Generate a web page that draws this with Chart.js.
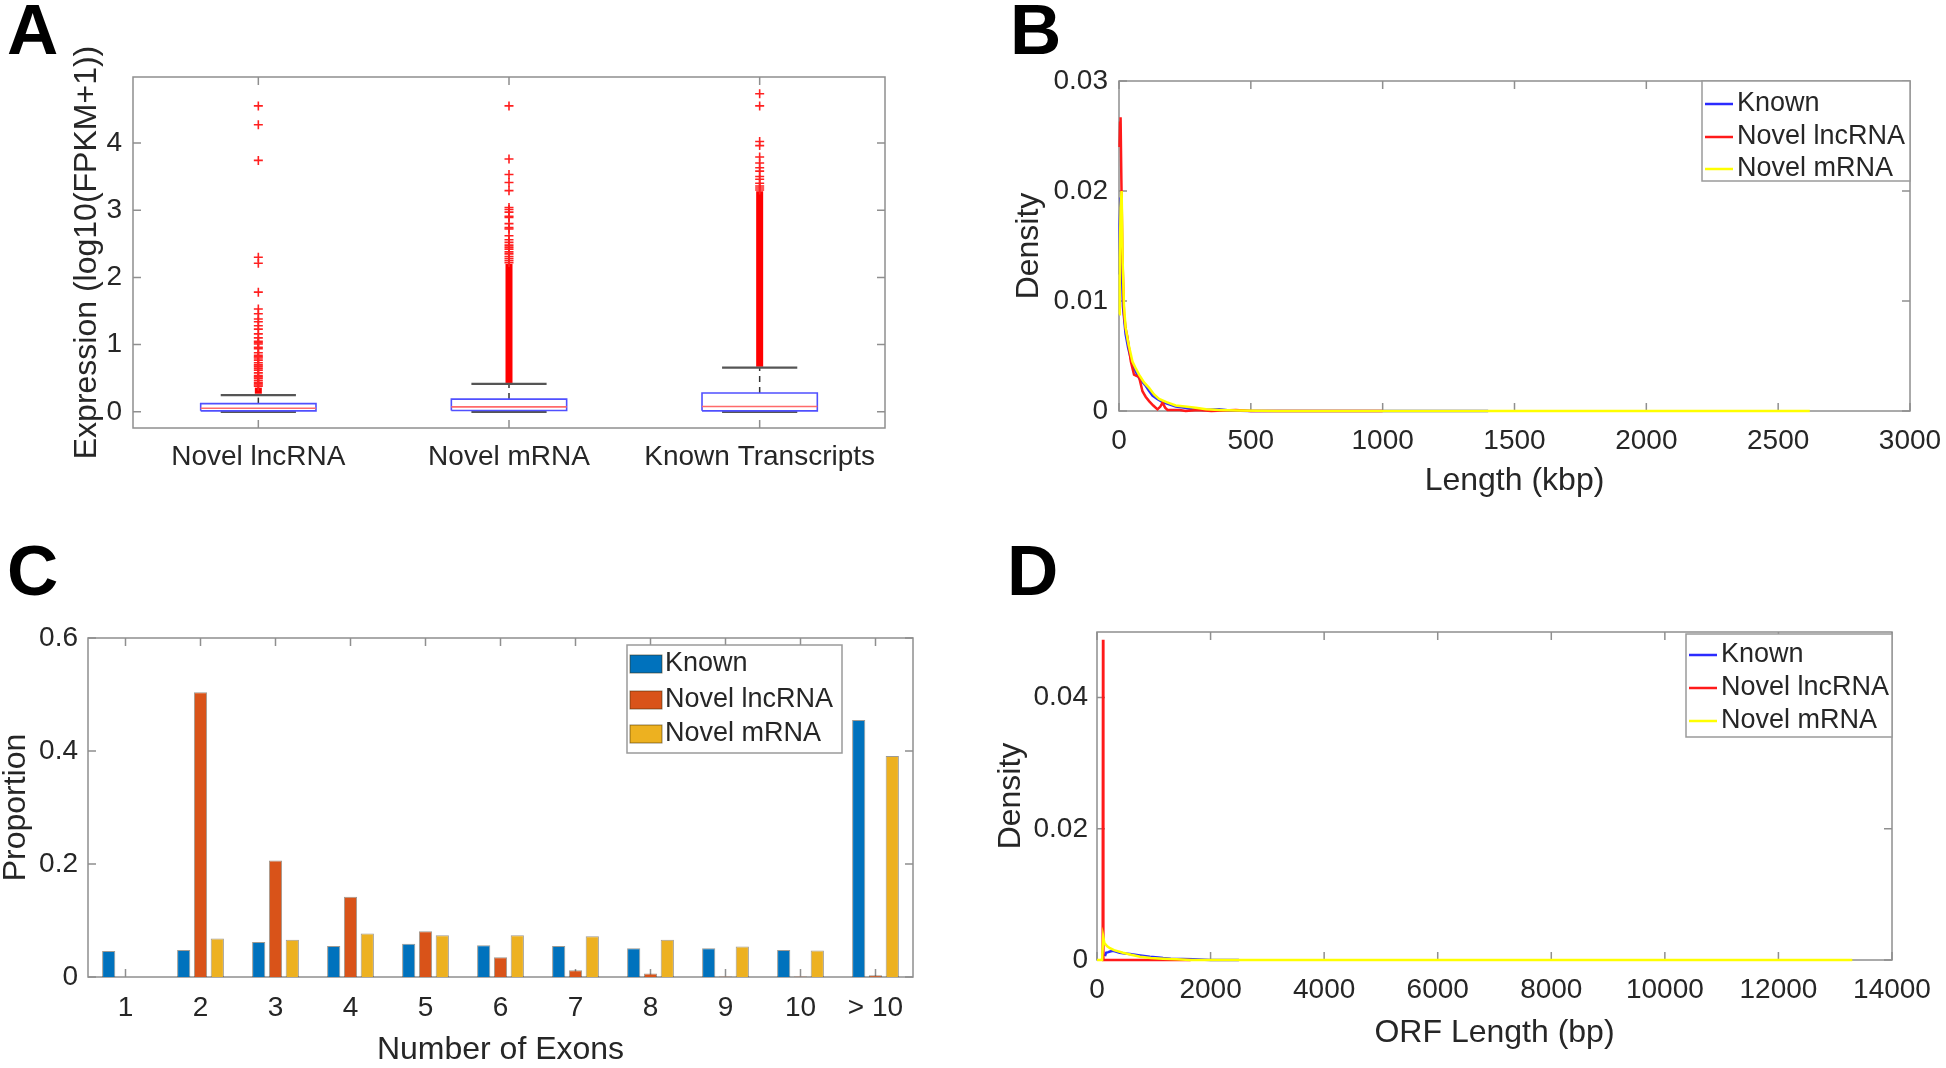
<!DOCTYPE html>
<html>
<head>
<meta charset="utf-8">
<title>Transcript features</title>
<script src="https://cdn.jsdelivr.net/npm/chart.js@4.4.1/dist/chart.umd.min.js"></script>
<style>
  html, body { margin: 0; padding: 0; background: #fff; }
  #page { position: relative; width: 1946px; height: 1068px; overflow: hidden; }
  canvas { position: absolute; }
  .tag { position: absolute; font: bold 71px 'Liberation Sans', Arial, sans-serif; line-height: 1; color: #000; }
</style>
</head>
<body>
<div id="page">
  <canvas id="chartA" width="973" height="534" style="left:0;top:0"></canvas>
  <canvas id="chartB" width="973" height="534" style="left:973px;top:0"></canvas>
  <canvas id="chartC" width="973" height="534" style="left:0;top:534px"></canvas>
  <canvas id="chartD" width="973" height="534" style="left:973px;top:534px"></canvas>
  <div class="tag" style="left:7px;top:-6px">A</div>
  <div class="tag" style="left:1010px;top:-6px">B</div>
  <div class="tag" style="left:7px;top:535px">C</div>
  <div class="tag" style="left:1007px;top:535px">D</div>
</div>
<script>
// ---- data ----
// A: expression box plots
var groupsA = ['Novel lncRNA', 'Novel mRNA', 'Known Transcripts'];
var q1A = [0.015, 0.02, 0.015];
var medA = [0.054, 0.074, 0.08];
var q3A = [0.123, 0.19, 0.28];
var whiskLoA = [0, 0, 0];
var whiskHiA = [0.25, 0.415, 0.657];
// solid runs of outliers (too dense to separate)
var denseLoA = [0.27, 0.43, 0.67];
var denseHiA = [0.36, 2.2, 3.28];
var outLnc = [4.55, 4.27, 3.74, 2.30, 2.21, 1.78, 1.53, 1.46, 1.38, 1.34, 1.28, 1.23, 1.16, 1.10, 1.05,
  1.03, 1.01, 0.96, 0.94, 0.88, 0.84, 0.82, 0.80, 0.77, 0.73, 0.70, 0.68, 0.65, 0.62, 0.58, 0.54,
  0.52, 0.50, 0.47, 0.44, 0.42, 0.40, 0.38];
var outMrna = [4.55, 3.76, 3.53, 3.41, 3.29, 3.04, 3.01, 2.97, 2.91, 2.89, 2.80, 2.74, 2.72, 2.62,
  2.56, 2.52, 2.48, 2.45, 2.42, 2.38, 2.35, 2.31, 2.28, 2.25, 2.22];
var outKnown = [4.73, 4.55, 4.02, 3.96, 3.79, 3.70, 3.63, 3.58, 3.50, 3.46, 3.40, 3.36, 3.33, 3.30];
var yTicksA = [0, 1, 2, 3, 4];

// B: transcript length density (kbp)
var knownXB = [0, 3, 6, 10, 15, 25, 35, 51, 65, 76, 90, 101, 115, 127, 145, 165, 190, 215, 250, 278, 320, 380, 420, 500, 700, 1000, 1400];
var knownYB = [0.0124, 0.017, 0.0194, 0.0135, 0.0095, 0.007, 0.0057, 0.0042, 0.0035, 0.003, 0.0026, 0.0023, 0.0018,
  0.0014, 0.0011, 0.0008, 0.0006, 0.0004, 0.0003, 0.00015, 0.0001, 0.00015, 0.00005, 0, 0, 0, 0];
var lncXB = [2, 4, 6, 9, 13, 19, 25, 32, 45, 57, 66, 76, 89, 101, 114, 130, 146, 157, 165, 175, 184, 200, 230, 253, 300, 350, 443, 500, 700, 1000];
var lncYB = [0.024, 0.0262, 0.0267, 0.021, 0.014, 0.0088, 0.0075, 0.0067, 0.0045, 0.0033, 0.0032, 0.0031, 0.0018,
  0.0013, 0.0009, 0.0005, 0.00015, 0.0004, 0.00076, 0.0003, 0.0001, 0.0001, 0.0001, 0, 0.0001, 0, 0.0001, 0, 0, 0];
var mrnaXB = [0, 3, 6, 10, 14, 19, 25, 35, 51, 65, 76, 95, 114, 133, 152, 180, 215, 250, 291, 330, 380, 450, 600, 800, 1200, 1600, 2000, 2400, 2620];
var mrnaYB = [0.0088, 0.014, 0.0185, 0.02, 0.0135, 0.0095, 0.0076, 0.0062, 0.0045, 0.0038, 0.0033, 0.0026, 0.0021,
  0.0015, 0.0011, 0.0008, 0.0005, 0.0004, 0.0003, 0.00015, 0.0001, 0.00005, 0, 0, 0, 0, 0, 0, 0];
var xTicksB = [0, 500, 1000, 1500, 2000, 2500, 3000];
var yTicksB = [0, 0.01, 0.02, 0.03];

// C: exon number proportions
var exonCats = ['1', '2', '3', '4', '5', '6', '7', '8', '9', '10', '> 10'];
var knownC = [0.046, 0.048, 0.062, 0.055, 0.059, 0.056, 0.055, 0.051, 0.051, 0.048, 0.455];
var lncC = [0, 0.504, 0.206, 0.142, 0.081, 0.035, 0.012, 0.006, 0.001, 0.001, 0.003];
var mrnaC = [0, 0.068, 0.066, 0.077, 0.074, 0.074, 0.072, 0.066, 0.054, 0.047, 0.391];
var yTicksC = [0, 0.2, 0.4, 0.6];

// D: ORF length density (bp)
var knownXD = [140, 160, 200, 230, 280, 330, 400, 490, 580, 760, 930, 1080, 1163, 1300, 1510, 1700, 2000, 2500];
var knownYD = [0.0006, 0.0011, 0.0012, 0.0013, 0.0014, 0.0013, 0.0011, 0.001, 0.0009, 0.0007, 0.0005, 0.0004,
  0.0003, 0.0002, 0.00015, 0.0001, 0, 0];
var lncXD = [100, 106, 112, 400, 1000, 1650];
var lncYD = [0, 0.0488, 0, 0, 0, 0];
var mrnaXD = [0, 90, 110, 130, 180, 229, 300, 458, 600, 758, 950, 1163, 1400, 1640, 2000, 4000, 8000, 12000, 13300];
var mrnaYD = [0, 0, 0.0035, 0.0026, 0.0021, 0.0018, 0.0015, 0.0011, 0.0008, 0.0005, 0.0003, 0.0002, 0.0001, 0, 0, 0, 0, 0, 0];
var xTicksD = [0, 2000, 4000, 6000, 8000, 10000, 12000, 14000];
var yTicksD = [0, 0.02, 0.04];

// ---- styling helpers ----
var fontFam = "'Liberation Sans', Arial, Helvetica, sans-serif";
var textColor = '#262626';
Chart.defaults.font.family = fontFam;
Chart.defaults.color = textColor;

function pts(xs, ys) {
  return xs.map(function (x, i) { return { x: x, y: ys[i] }; });
}

function seg(data, color, width, dash) {
  return {
    data: data, showLine: true, pointRadius: 0, borderColor: color, borderWidth: width,
    borderDash: dash || [], fill: false, tension: 0, clip: false
  };
}

function axis(o) {
  var a = {
    type: o.type || 'linear',
    grid: { display: false, drawTicks: false },
    border: { display: false },
    ticks: { padding: o.pad, font: { size: 28 }, maxRotation: 0, autoSkip: false },
    afterFit: function (s) {
      if (s.isHorizontal()) { s.height = o.size; s.paddingLeft = 0; s.paddingRight = 0; }
      else { s.width = o.size; s.paddingTop = 0; s.paddingBottom = 0; }
    },
    title: { display: false }
  };
  if (o.min !== undefined) a.min = o.min;
  if (o.max !== undefined) a.max = o.max;
  if (o.label) a.ticks.callback = o.label;
  if (o.values) a.afterBuildTicks = function (s) { s.ticks = o.values.map(function (v) { return { value: v }; }); };
  if (o.title) a.title = { display: true, text: o.title, color: textColor, font: { size: 32, lineHeight: 1 }, padding: o.titlePad };
  return a;
}

function baseOptions(padding, x, y, legendSpec) {
  return {
    responsive: false,
    animation: false,
    devicePixelRatio: 1,
    layout: { padding: padding, autoPadding: false },
    scales: { x: x, y: y },
    plugins: { legend: { display: false }, tooltip: { enabled: false }, frameBox: { legend: legendSpec } }
  };
}

// MATLAB-like box frame, inward ticks and an inset legend
var frameBox = {
  id: 'frameBox',
  beforeDatasetsDraw: function (chart) {
    var ctx = chart.ctx, a = chart.chartArea, x = chart.scales.x, y = chart.scales.y, L = 8;
    ctx.save();
    ctx.strokeStyle = '#8f8f8f';
    ctx.lineWidth = 1.5;
    ctx.strokeRect(a.left, a.top, a.right - a.left, a.bottom - a.top);
    ctx.beginPath();
    x.ticks.forEach(function (t, i) {
      var px = x.getPixelForTick(i);
      ctx.moveTo(px, a.bottom); ctx.lineTo(px, a.bottom - L);
      ctx.moveTo(px, a.top); ctx.lineTo(px, a.top + L);
    });
    y.ticks.forEach(function (t, i) {
      var py = y.getPixelForTick(i);
      ctx.moveTo(a.left, py); ctx.lineTo(a.left + L, py);
      ctx.moveTo(a.right, py); ctx.lineTo(a.right - L, py);
    });
    ctx.stroke();
    ctx.restore();
  },
  afterDatasetsDraw: function (chart, args, opts) {
    var lg = opts.legend;
    if (!lg) return;
    var ctx = chart.ctx, a = chart.chartArea;
    var left = a.right - lg.right - lg.w, top = a.top + lg.top;
    ctx.save();
    ctx.fillStyle = '#fff';
    ctx.fillRect(left, top, lg.w, lg.h);
    ctx.strokeStyle = '#9a9a9a';
    ctx.lineWidth = 1.5;
    ctx.strokeRect(left, top, lg.w, lg.h);
    ctx.font = '27px ' + fontFam;
    ctx.textBaseline = 'middle';
    var items = chart.data.datasets.filter(function (d) { return d.inLegend; });
    items.forEach(function (d, i) {
      var cy = top + lg.rows[i];
      if (lg.kind === 'line') {
        ctx.strokeStyle = d.borderColor;
        ctx.lineWidth = 2.5;
        ctx.beginPath(); ctx.moveTo(left + 3, cy); ctx.lineTo(left + 31, cy); ctx.stroke();
      } else {
        ctx.fillStyle = d.backgroundColor;
        ctx.fillRect(left + 3, cy - 9, 32, 18);
        ctx.strokeStyle = 'rgba(60,40,0,0.55)';
        ctx.lineWidth = 1;
        ctx.strokeRect(left + 3, cy - 9, 32, 18);
      }
      ctx.fillStyle = textColor;
      ctx.fillText(d.label, left + lg.textX, cy);
    });
    ctx.restore();
  }
};

// ---- A: box plots ----
var boxHalf = 0.23, capHalf = 0.15;
var outliersA = [outLnc, outMrna, outKnown];
var dsA = [];
groupsA.forEach(function (g, i) {
  var c = i + 1;
  dsA.push(seg([{ x: c, y: q3A[i] }, { x: c, y: whiskHiA[i] }], '#333', 1.5, [6, 5]));
  dsA.push(seg([{ x: c, y: whiskLoA[i] }, { x: c, y: q1A[i] }], '#333', 1.5, [6, 5]));
  dsA.push(seg([{ x: c, y: denseLoA[i] }, { x: c, y: denseHiA[i] }], '#ff0000', 7));
  dsA.push({
    data: outliersA[i].map(function (v) { return { x: c, y: v }; }),
    showLine: false, pointStyle: 'cross', pointRadius: 4.5, pointBorderWidth: 1.6,
    pointBorderColor: '#ff2020', pointBackgroundColor: '#ff2020', clip: false
  });
  dsA.push(seg([{ x: c - capHalf, y: whiskHiA[i] }, { x: c + capHalf, y: whiskHiA[i] }], '#555', 2.2));
  dsA.push(seg([{ x: c - capHalf, y: whiskLoA[i] }, { x: c + capHalf, y: whiskLoA[i] }], '#555', 2.2));
  dsA.push(seg([{ x: c - boxHalf, y: q1A[i] }, { x: c + boxHalf, y: q1A[i] }, { x: c + boxHalf, y: q3A[i] },
    { x: c - boxHalf, y: q3A[i] }, { x: c - boxHalf, y: q1A[i] }], '#5050ff', 1.6));
  dsA.push(seg([{ x: c - boxHalf, y: medA[i] }, { x: c + boxHalf, y: medA[i] }], '#ff6a6a', 1.6));
});
dsA.forEach(function (d, k) { d.order = dsA.length - k; });

new Chart(document.getElementById('chartA'), {
  type: 'scatter',
  data: { datasets: dsA },
  options: baseOptions({ left: 0, top: 77, right: 88, bottom: 0 },
    axis({ min: 0.5, max: 3.5, values: [1, 2, 3], label: function (v) { return groupsA[v - 1]; }, pad: 12, size: 106 }),
    axis({ min: -0.24, max: 4.98, values: yTicksA, label: function (v) { return String(v); }, pad: 11, size: 133,
      title: 'Expression (log10(FPKM+1))', titlePad: { top: 71 } }),
    null),
  plugins: [frameBox]
});

// ---- B: length density ----
function densitySet(label, color, xs, ys, order) {
  var d = seg(pts(xs, ys), color, 2.5);
  d.label = label; d.inLegend = true; d.order = order;
  return d;
}

new Chart(document.getElementById('chartB'), {
  type: 'scatter',
  data: {
    datasets: [
      densitySet('Known', '#2b2bff', knownXB, knownYB, 2),
      densitySet('Novel lncRNA', '#ff1a1a', lncXB, lncYB, 1),
      densitySet('Novel mRNA', '#ffff00', mrnaXB, mrnaYB, 0)
    ]
  },
  options: baseOptions({ left: 0, top: 81, right: 36, bottom: 0 },
    axis({ min: 0, max: 3000, values: xTicksB, label: function (v) { return String(v); }, pad: 13, size: 123,
      title: 'Length (kbp)', titlePad: { bottom: 37 } }),
    axis({ min: 0, max: 0.03, values: yTicksB, label: function (v) { return String(v); }, pad: 11, size: 146,
      title: 'Density', titlePad: { top: 40 } }),
    { kind: 'line', right: 0, w: 208, top: 0, h: 100, rows: [23, 56, 88], textX: 35 }),
  plugins: [frameBox]
});

// ---- C: exon number bars ----
function barSet(label, color, values) {
  return {
    label: label, inLegend: true, data: values, backgroundColor: color,
    borderColor: 'rgba(40,30,10,0.45)', borderWidth: 1,
    categoryPercentage: 0.672, barPercentage: 0.786
  };
}

new Chart(document.getElementById('chartC'), {
  type: 'bar',
  data: {
    labels: exonCats,
    datasets: [
      barSet('Known', '#0072bd', knownC),
      barSet('Novel lncRNA', '#d95319', lncC),
      barSet('Novel mRNA', '#edb120', mrnaC)
    ]
  },
  options: baseOptions({ left: 0, top: 104, right: 60, bottom: 0 },
    axis({ type: 'category', pad: 14, size: 91, title: 'Number of Exons', titlePad: { bottom: 2 } }),
    axis({ min: 0, max: 0.6, values: yTicksC, label: function (v) { return String(v); }, pad: 10, size: 88,
      title: 'Proportion', titlePad: { top: 0 } }),
    { kind: 'box', right: 71, w: 215, top: 7, h: 108, rows: [19, 55, 89], textX: 38 }),
  plugins: [frameBox]
});

// ---- D: ORF length density ----
new Chart(document.getElementById('chartD'), {
  type: 'scatter',
  data: {
    datasets: [
      densitySet('Known', '#2b2bff', knownXD, knownYD, 2),
      densitySet('Novel lncRNA', '#ff1a1a', lncXD, lncYD, 1),
      densitySet('Novel mRNA', '#ffff00', mrnaXD, mrnaYD, 0)
    ]
  },
  options: baseOptions({ left: 0, top: 98, right: 54, bottom: 0 },
    axis({ min: 0, max: 14000, values: xTicksD, label: function (v) { return String(v); }, pad: 13, size: 108,
      title: 'ORF Length (bp)', titlePad: { bottom: 19 } }),
    axis({ min: 0, max: 0.05, values: yTicksD, label: function (v) { return String(v); }, pad: 9, size: 124,
      title: 'Density', titlePad: { top: 22 } }),
    { kind: 'line', right: 0, w: 206, top: 2, h: 103, rows: [21, 54, 87], textX: 35 }),
  plugins: [frameBox]
});
</script>
</body>
</html>
